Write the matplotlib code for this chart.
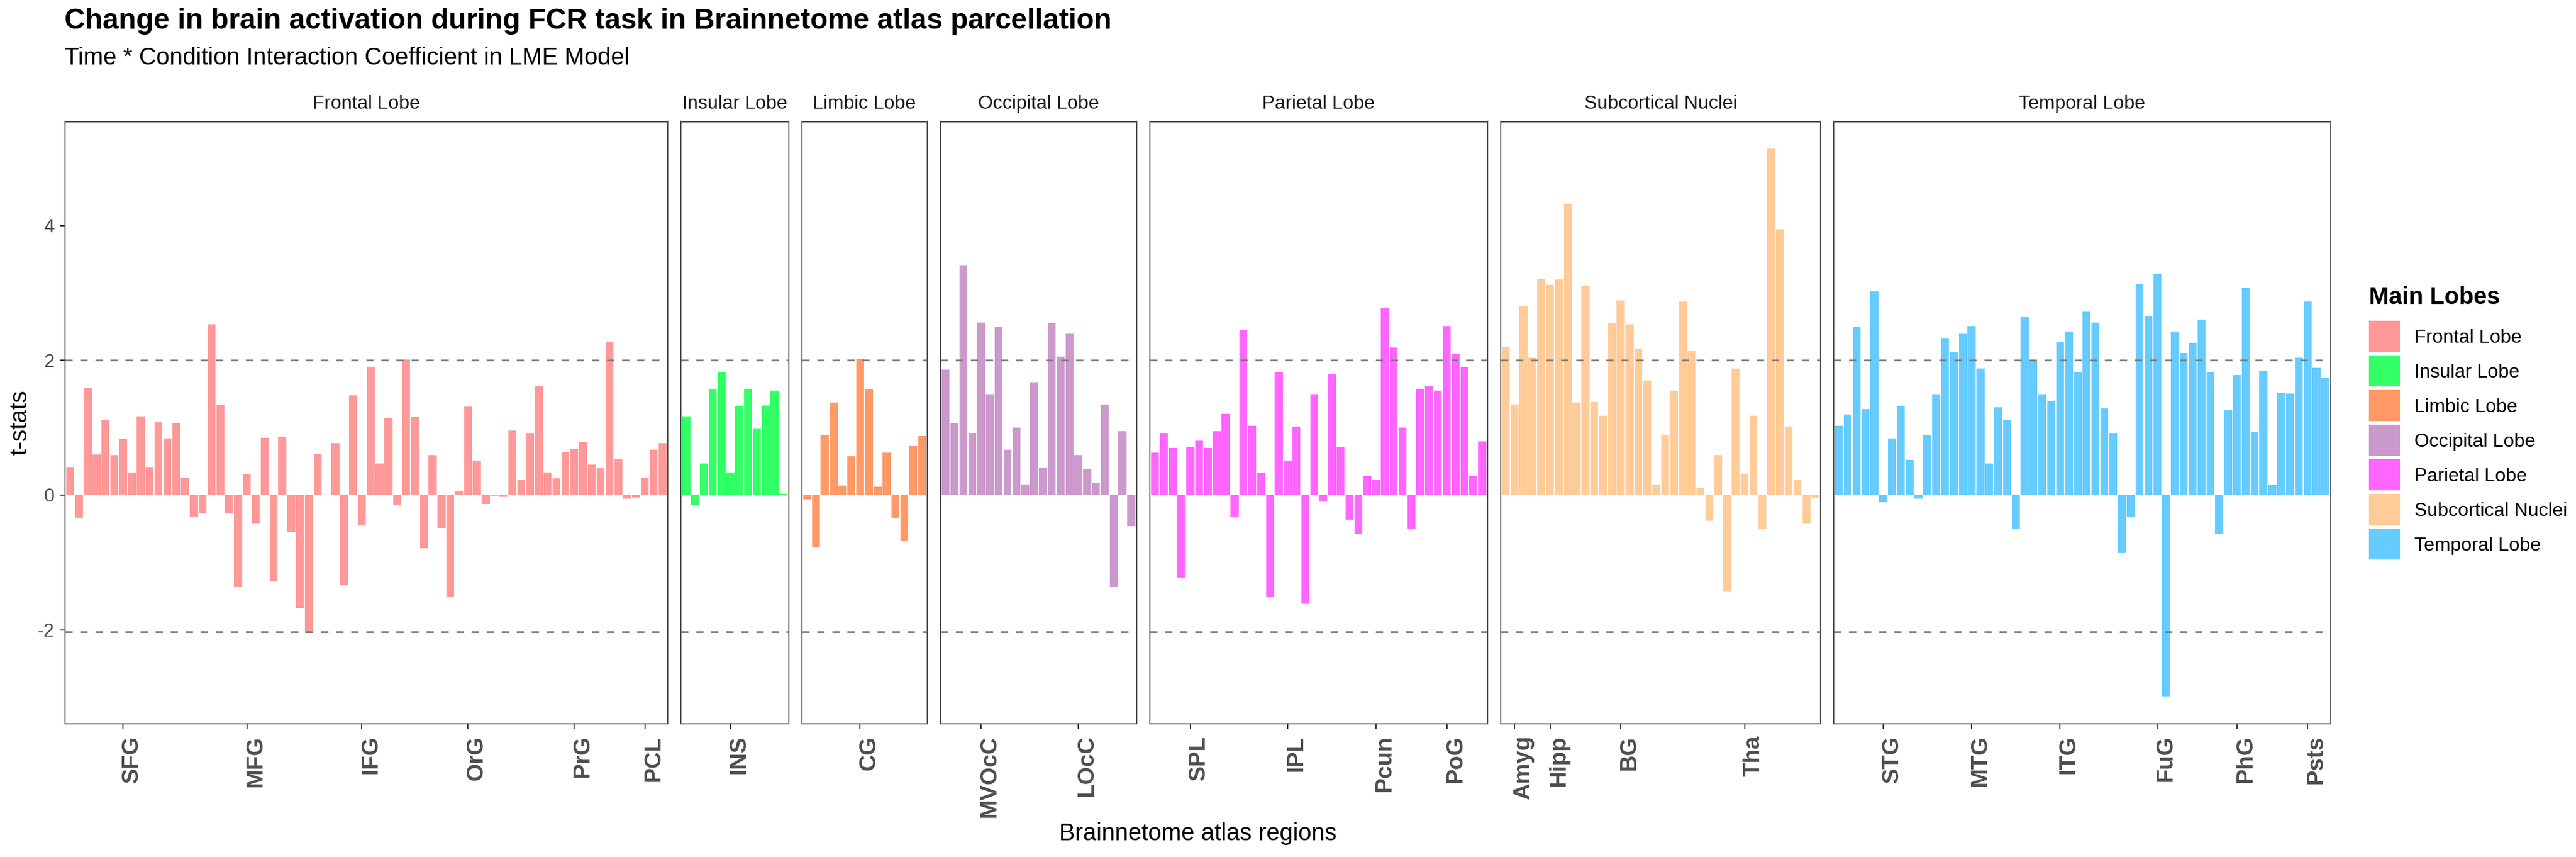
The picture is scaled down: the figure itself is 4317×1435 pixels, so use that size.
import numpy as np
import matplotlib
matplotlib.use("Agg")
import matplotlib.pyplot as plt
from matplotlib.patches import Rectangle
from matplotlib.transforms import blended_transform_factory, ScaledTranslation

plt.rcParams['font.family'] = ['Liberation Sans', 'DejaVu Sans']
plt.rcParams['axes.unicode_minus'] = False

# t-stats por lobo (ordem das regioes do atlas Brainnetome)
frontal = [0.42, -0.34, 1.59, 0.60, 1.12, 0.59, 0.83, 0.34, 1.17, 0.42, 1.08, 0.84, 1.06, 0.26,
           -0.32, -0.27, 2.54, 1.34, -0.27, -1.37, 0.31, -0.42, 0.85, -1.28, 0.86, -0.55, -1.68, -2.05,
           0.61, 0.01, 0.77, -1.33, 1.48, -0.45, 1.91, 0.47, 1.14, -0.14, 2.01, 1.16,
           -0.79, 0.59, -0.49, -1.52, 0.06, 1.31, 0.51, -0.13, -0.01, -0.03, 0.96, 0.22,
           0.92, 1.61, 0.34, 0.25, 0.64, 0.68, 0.79, 0.45, 0.40, 2.28, 0.54, -0.05,
           -0.04, 0.26, 0.67, 0.77]
insular = [1.17, -0.14, 0.47, 1.58, 1.83, 0.34, 1.32, 1.58, 0.99, 1.33, 1.55, 0.02]
limbic = [-0.06, -0.78, 0.89, 1.37, 0.14, 0.58, 2.02, 1.57, 0.12, 0.63, -0.35, -0.68, 0.73, 0.88]
occipital = [1.86, 1.07, 3.41, 0.92, 2.56, 1.50, 2.50, 0.67, 1.00, 0.16, 1.68, 0.41, 2.55, 2.06,
             2.39, 0.59, 0.39, 0.18, 1.34, -1.37, 0.95, -0.46]
parietal = [0.63, 0.92, 0.70, -1.22, 0.72, 0.81, 0.70, 0.95, 1.21, -0.33, 2.45, 1.03, 0.33, -1.51,
            1.83, 0.51, 1.01, -1.61, 1.50, -0.10, 1.80, 0.72, -0.36, -0.58, 0.28, 0.22, 2.78, 2.19,
            1.00, -0.50, 1.58, 1.61, 1.55, 2.51, 2.09, 1.90, 0.28, 0.80]
subcortical = [2.20, 1.35, 2.80, 2.04, 3.21, 3.12, 3.20, 4.32, 1.37, 3.10, 1.38, 1.18, 2.55, 2.89,
               2.54, 2.17, 1.70, 0.15, 0.89, 1.54, 2.87, 2.14, 0.11, -0.38, 0.59, -1.44, 1.88, 0.32,
               1.18, -0.51, 5.14, 3.95, 1.02, 0.22, -0.42, -0.04]
temporal = [1.03, 1.20, 2.50, 1.28, 3.02, -0.11, 0.84, 1.32, 0.52, -0.05, 0.89, 1.50, 2.33, 2.12,
            2.39, 2.51, 1.88, 0.47, 1.30, 1.12, -0.51, 2.64, 2.00, 1.50, 1.39, 2.28, 2.43, 1.83,
            2.72, 2.56, 1.29, 0.92, -0.86, -0.33, 3.13, 2.65, 3.28, -2.99, 2.43, 2.11, 2.26, 2.61,
            1.83, -0.58, 1.26, 1.78, 3.08, 0.94, 1.84, 0.15, 1.52, 1.51, 2.04, 2.87, 1.89, 1.74]

lobes = ['Frontal Lobe', 'Insular Lobe', 'Limbic Lobe', 'Occipital Lobe',
         'Parietal Lobe', 'Subcortical Nuclei', 'Temporal Lobe']
values = [frontal, insular, limbic, occipital, parietal, subcortical, temporal]
colors = ['#FF9999', '#33FF66', '#FF9966', '#CC99CC', '#FF66FF', '#FFCC99', '#66CCFF']

# regioes rotuladas no eixo x (indice da barra dentro do lobo, base 1)
region_names = [['SFG', 'MFG', 'IFG', 'OrG', 'PrG', 'PCL'],
                ['INS'],
                ['CG'],
                ['MVOcC', 'LOcC'],
                ['SPL', 'IPL', 'Pcun', 'PoG'],
                ['Amyg', 'Hipp', 'BG', 'Tha'],
                ['STG', 'MTG', 'ITG', 'FuG', 'PhG', 'Psts']]
region_pos = [[7, 21, 34, 46, 58, 66],
              [6],
              [7],
              [5, 16],
              [5, 16, 26, 34],
              [2, 6, 14, 28],
              [6, 16, 26, 37, 46, 54]]

thresholds = [2.0, -2.03]

# layout em pixels
W, H, DPI = 4317, 1435, 240
def fx(px):
    return px / W
def fy(py):
    return 1 - py / H

fig = plt.figure(figsize=(W / DPI, H / DPI), dpi=DPI)

all_vals = np.concatenate([np.array(v) for v in values])
lo, hi = all_vals.min(), all_vals.max()
pad = 0.05 * (hi - lo)
ylim = (lo - pad, hi + pad)

unit = 14.82
gap = 21.8
left_px = 108.5
top_px, bottom_px = 203.5, 1212.0
grey30 = '#4D4D4D'

x0 = left_px
for i, (lobe, vals, col) in enumerate(zip(lobes, values, colors)):
    n = len(vals)
    w = (n + 0.2) * unit
    ax = fig.add_axes([fx(x0), fy(bottom_px), w / W, (bottom_px - top_px) / H])
    ax.bar(np.arange(1, n + 1), vals, width=0.9, color=col, linewidth=0)
    for t in thresholds:
        ax.axhline(t, color='#7A7A7A', linewidth=0.85, linestyle=(0, (4.3, 4.6)))
    ax.set_xlim(0.4, n + 0.6)
    ax.set_ylim(*ylim)
    for s in ax.spines.values():
        s.set_color('#555555')
        s.set_linewidth(0.6)
    ax.set_xticks(region_pos[i])
    ax.set_xticklabels([])
    ax.tick_params(axis='x', length=2.75, width=0.6, color='#333333')
    if i == 0:
        ax.set_yticks([-2, 0, 2, 4])
        ax.set_yticklabels(['-2', '0', '2', '4'])
        ax.tick_params(axis='y', length=2.75, width=0.6, color='#333333',
                       labelsize=9.6, labelcolor=grey30, pad=2.4)
    else:
        ax.set_yticks([])
    # rotulos das regioes
    trans = blended_transform_factory(ax.transData, ax.transAxes) + \
        ScaledTranslation(24.5 / DPI, -19.5 / DPI, fig.dpi_scale_trans)
    for name, p in zip(region_names[i], region_pos[i]):
        ax.text(p, 0, name, transform=trans, rotation=90, rotation_mode='anchor',
                ha='right', va='baseline', fontsize=11.6, fontweight='bold', color=grey30)
    # titulo da faceta
    fig.text(fx(x0 + w / 2), fy(182), lobe, ha='center', va='baseline',
             fontsize=9.6, color='#1A1A1A')
    x0 += w + gap

right_px = x0 - gap

# titulos
fig.text(fx(left_px), fy(47.6), 'Change in brain activation during FCR task in Brainnetome atlas parcellation',
         ha='left', va='baseline', fontsize=14.4, fontweight='bold')
fig.text(fx(left_px), fy(108.5), 'Time * Condition Interaction Coefficient in LME Model',
         ha='left', va='baseline', fontsize=12)
fig.text(fx(44), fy((top_px + bottom_px) / 2), 't-stats', rotation=90, rotation_mode='anchor',
         ha='center', va='baseline', fontsize=12)
fig.text(fx((left_px + right_px) / 2), fy(1407), 'Brainnetome atlas regions',
         ha='center', va='baseline', fontsize=12)

# legenda
leg_x = 3969.6
fig.text(fx(leg_x), fy(509.4), 'Main Lobes', ha='left', va='baseline',
         fontsize=12, fontweight='bold')
for k, (lobe, col) in enumerate(zip(lobes, colors)):
    ky = 536.7 + k * 58
    fig.add_artist(Rectangle((fx(leg_x), fy(ky + 52.3)), 52.8 / W, 52.3 / H,
                             transform=fig.transFigure, facecolor=col, edgecolor='none'))
    fig.text(fx(4046.5), fy(ky + 37.0), lobe, ha='left', va='baseline', fontsize=9.6)

fig.savefig('out.png', dpi=DPI, facecolor='white')
